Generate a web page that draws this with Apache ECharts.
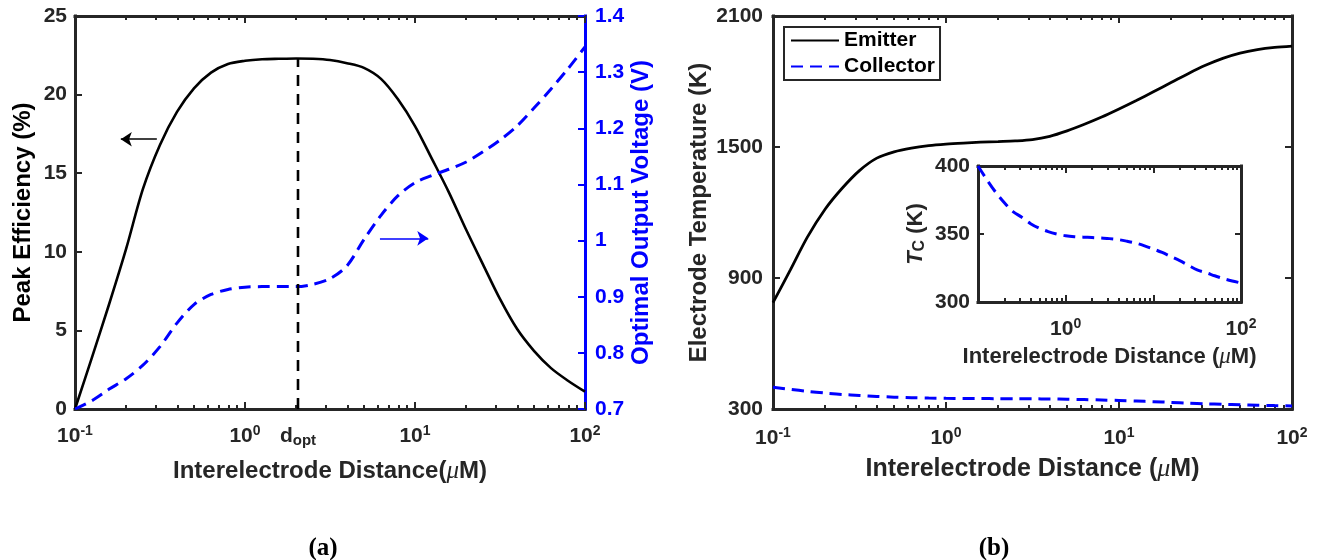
<!DOCTYPE html>
<html><head><meta charset="utf-8">
<script src="https://cdn.jsdelivr.net/npm/echarts@6/dist/echarts.min.js"></script>
<style>html,body{margin:0;padding:0;background:#fff}#c{width:1325px;height:560px}</style>
</head><body><div id="c"></div>
<script>
// ---------- data ----------
const distance = [0.1, 0.126, 0.158, 0.2, 0.251, 0.316, 0.398, 0.501, 0.631, 0.794, 1, 1.26, 1.58, 2, 2.51, 3.16, 3.98, 5.01, 6.31, 7.94, 10, 12.6, 15.8, 20, 25.1, 31.6, 39.8, 50.1, 63.1, 79.4, 100];
const efficiency = [0, 3.3, 6.6, 10.2, 14.0, 16.8, 18.9, 20.4, 21.4, 21.95, 22.15, 22.25, 22.28, 22.3, 22.28, 22.2, 22.0, 21.7, 21.0, 19.7, 18.0, 15.9, 13.8, 11.4, 9.2, 7.0, 5.1, 3.7, 2.6, 1.8, 1.1];
const voltage = [0.700, 0.715, 0.735, 0.754, 0.778, 0.811, 0.853, 0.886, 0.904, 0.913, 0.917, 0.918, 0.918, 0.918, 0.922, 0.932, 0.955, 1.002, 1.045, 1.080, 1.103, 1.116, 1.127, 1.140, 1.158, 1.179, 1.204, 1.236, 1.270, 1.306, 1.345];
const emitterT = [787, 937, 1087, 1215, 1311, 1392, 1449, 1478, 1495, 1506, 1513, 1518, 1522, 1525, 1528, 1534, 1549, 1574, 1604, 1637, 1674, 1713, 1753, 1795, 1836, 1874, 1906, 1930, 1946, 1956, 1962];
const collectorT = [400, 390, 381, 373, 366.5, 362.3, 357.6, 354.2, 351.8, 350, 348.7, 348, 347.7, 347.4, 347, 346.6, 345.9, 344.7, 343.3, 341.3, 339, 336.4, 333.5, 330.4, 327, 323.6, 321.6, 319.3, 317.2, 315.5, 314];
const dOpt = 2.05;
const peakEff = 22.3;
const effArrow = [[0.303, 17.16], [0.186, 17.16]];
const voltArrow = [[6.22, 1.004], [11.97, 1.004]];
const majorX = [0.1, 1, 10, 100];
const minorX = [0.2, 0.3, 0.4, 0.5, 0.6, 0.7, 0.8, 0.9, 2, 3, 4, 5, 6, 7, 8, 9, 20, 30, 40, 50, 60, 70, 80, 90];
const labelsA = [0.1, 1, dOpt, 10, 100];
const labelsB = [0.1, 1, 10, 100];
const labelsInset = [1, 100];
const tempTicks = [300, 900, 1500, 2100];

// ---------- styling ----------
const FONT = "'Liberation Sans', Arial, Helvetica, sans-serif";
const SERIF = "'Liberation Serif', 'Times New Roman', serif";
const INK = '#262626';
const BLUE = '#0000ff';

function tickRich(color) {
  return {
    b: {fontFamily: FONT, fontWeight: 'bold', fontSize: 21, color: color, lineHeight: 24},
    sup: {fontFamily: FONT, fontWeight: 'bold', fontSize: 14, color: color, lineHeight: 11, verticalAlign: 'top'},
    sub: {fontFamily: FONT, fontWeight: 'bold', fontSize: 15, color: color, lineHeight: 2, verticalAlign: 'bottom'}
  };
}
function powLabel(v) {
  if (Math.abs(v - dOpt) < 1e-6) return '{b|d}{sub|opt}';
  const e = Math.round(Math.log10(v));
  return '{b|10}{sup|' + e + '}';
}
function nameStyle(size, color, pad) {
  return {
    fontFamily: FONT, fontWeight: 'bold', fontSize: size, color: color, padding: pad || 0,
    rich: {
      i: {fontFamily: SERIF, fontStyle: 'italic', fontWeight: 'normal', fontSize: size + 1, color: color},
      it: {fontFamily: FONT, fontStyle: 'italic', fontWeight: 'bold', fontSize: size, color: color, lineHeight: size + 2},
      s: {fontFamily: FONT, fontWeight: 'bold', fontSize: Math.round(size * 0.72), color: color, lineHeight: 4, verticalAlign: 'bottom'}
    }
  };
}
const plainNum = (v) => String(Math.round(v * 1000) / 1000);
const axLine = {show: true, onZero: false, lineStyle: {color: INK, width: 3, cap: 'square'}};
function xAxisSet(gi, labelVals, name, nameGap, nameSize, margin) {
  const base = {gridIndex: gi, type: 'log', logBase: 10, min: 0.1, max: 100, splitLine: {show: false},
    minorTick: {show: false}, minorSplitLine: {show: false}, axisPointer: {show: false}, silent: true};
  const major = {show: true, inside: true, length: 7, customValues: majorX, lineStyle: {color: INK, width: 2}};
  const minor = {show: true, inside: true, length: 4, customValues: minorX, lineStyle: {color: INK, width: 2}};
  return [
    Object.assign({}, base, {position: 'bottom', axisLine: axLine, axisTick: major,
      axisLabel: {show: true, customValues: labelVals, formatter: powLabel, margin: margin, rich: tickRich(INK), hideOverlap: false},
      name: name, nameLocation: 'middle', nameGap: nameGap, nameTextStyle: nameStyle(nameSize, INK)}),
    Object.assign({}, base, {position: 'top', axisLine: axLine, axisTick: major, axisLabel: {show: false}}),
    Object.assign({}, base, {position: 'bottom', axisLine: {show: false}, axisTick: minor, axisLabel: {show: false}}),
    Object.assign({}, base, {position: 'top', axisLine: {show: false}, axisTick: minor, axisLabel: {show: false}})
  ];
}
function yTickLabel(color, margin) {
  return {show: true, margin: margin, fontFamily: FONT, fontWeight: 'bold', fontSize: 21, color: color, formatter: plainNum};
}

const pts = (ys) => distance.map((d, i) => [d, ys[i]]);

const xAxes = [].concat(
  xAxisSet(0, labelsA, 'Interelectrode Distance({i|μ}M)', 50, 24, 15),
  xAxisSet(1, labelsB, 'Interelectrode Distance ({i|μ}M)', 47, 25, 17),
  xAxisSet(2, labelsInset, 'Interelectrode Distance ({i|μ}M)', 43, 22, 15)
);

const yAxes = [
  {gridIndex: 0, type: 'value', min: 0, max: 25, interval: 5, position: 'left',
    axisLine: axLine, axisTick: {show: true, inside: true, length: 7, lineStyle: {color: INK, width: 2}},
    axisLabel: yTickLabel(INK, 8), splitLine: {show: false},
    name: 'Peak Efficiency (%)', nameLocation: 'middle', nameRotate: 90, nameGap: 40, nameTextStyle: nameStyle(24, '#000')},
  {gridIndex: 0, type: 'value', min: 0.7, max: 1.4, interval: 0.1, position: 'right',
    axisLine: {show: true, onZero: false, lineStyle: {color: BLUE, width: 3, cap: 'square'}},
    axisTick: {show: true, inside: true, length: 7, lineStyle: {color: BLUE, width: 2}},
    axisLabel: yTickLabel(BLUE, 10), splitLine: {show: false},
    name: 'Optimal Output Voltage (V)', nameLocation: 'middle', nameRotate: 90, nameGap: 44, nameTextStyle: nameStyle(24, BLUE)},
  {gridIndex: 1, type: 'value', min: 300, max: 2100, position: 'left',
    axisLine: axLine, axisTick: {show: true, inside: true, length: 7, customValues: tempTicks, lineStyle: {color: INK, width: 2}},
    axisLabel: Object.assign(yTickLabel(INK, 10), {customValues: tempTicks}), splitLine: {show: false},
    name: 'Electrode Temperature (K)', nameLocation: 'middle', nameRotate: 90, nameGap: 62, nameTextStyle: nameStyle(24, INK)},
  {gridIndex: 1, type: 'value', min: 300, max: 2100, position: 'right',
    axisLine: axLine, axisTick: {show: true, inside: true, length: 7, customValues: tempTicks, lineStyle: {color: INK, width: 2}},
    axisLabel: {show: false}, splitLine: {show: false}},
  {gridIndex: 2, type: 'value', min: 300, max: 400, interval: 50, position: 'left',
    axisLine: axLine, axisTick: {show: true, inside: true, length: 6, lineStyle: {color: INK, width: 2}},
    axisLabel: yTickLabel(INK, 8), splitLine: {show: false},
    name: '{it|T}{s|C} (K)', nameLocation: 'middle', nameRotate: 90, nameGap: 50, nameTextStyle: nameStyle(22, INK)},
  {gridIndex: 2, type: 'value', min: 300, max: 400, interval: 50, position: 'right',
    axisLine: axLine, axisTick: {show: true, inside: true, length: 6, lineStyle: {color: INK, width: 2}},
    axisLabel: {show: false}, splitLine: {show: false}}
];

const lineBase = {type: 'line', symbol: 'none', showSymbol: false, smooth: 0.3, silent: true, animation: false, z: 3};
const arrowMark = (color, seg) => ({
  silent: true, animation: false, symbol: ['none', 'arrow'], symbolSize: 11, label: {show: false},
  lineStyle: {color: color, width: 1.5, type: 'solid'}, emphasis: {disabled: true},
  data: [[{coord: seg[0]}, {coord: seg[1]}]]
});

const option = {
  animation: false,
  backgroundColor: '#fff',
  title: [
    {text: '(a)', left: 318, top: 531, textAlign: 'center', textStyle: {fontFamily: SERIF, fontWeight: 'bold', fontSize: 25, color: '#000'}},
    {text: '(b)', left: 989, top: 531, textAlign: 'center', textStyle: {fontFamily: SERIF, fontWeight: 'bold', fontSize: 25, color: '#000'}}
  ],
  grid: [
    {left: 75, top: 16, width: 510, height: 393, outerBoundsMode: 'none', containLabel: false},
    {left: 773, top: 16, width: 519, height: 393, outerBoundsMode: 'none', containLabel: false},
    {left: 978, top: 166, width: 263, height: 136, outerBoundsMode: 'none', containLabel: false, show: true, backgroundColor: '#fff', borderWidth: 0}
  ],
  legend: {
    data: ['Emitter', 'Collector'], orient: 'vertical', left: 784, top: 27,
    padding: [3, 5, 3, 6], itemGap: 5, itemWidth: 48, itemHeight: 21,
    backgroundColor: '#fff', borderColor: INK, borderWidth: 2, selectedMode: false,
    itemStyle: {opacity: 0, borderWidth: 0},
    lineStyle: {inactiveWidth: 2.8},
    textStyle: {fontFamily: FONT, fontWeight: 'bold', fontSize: 21, color: '#000'}
  },
  xAxis: xAxes,
  yAxis: yAxes,
  series: [
    Object.assign({}, lineBase, {name: 'Peak Efficiency', xAxisIndex: 0, yAxisIndex: 0, data: pts(efficiency),
      lineStyle: {color: '#000', width: 2.6}, markLine: arrowMark('#000', effArrow)}),
    Object.assign({}, lineBase, {name: 'Optimal Output Voltage', xAxisIndex: 0, yAxisIndex: 1, data: pts(voltage),
      lineStyle: {color: BLUE, width: 3, type: [12, 7]}, markLine: arrowMark(BLUE, voltArrow)}),
    Object.assign({}, lineBase, {name: 'd_opt', xAxisIndex: 0, yAxisIndex: 0, smooth: false, data: [[dOpt, 0], [dOpt, peakEff]],
      lineStyle: {color: '#000', width: 2.6, type: [11, 8]}}),
    Object.assign({}, lineBase, {name: 'Emitter', xAxisIndex: 4, yAxisIndex: 2, data: pts(emitterT),
      lineStyle: {color: '#000', width: 2.8}, itemStyle: {color: '#000'}}),
    Object.assign({}, lineBase, {name: 'Collector', xAxisIndex: 4, yAxisIndex: 2, data: pts(collectorT),
      lineStyle: {color: BLUE, width: 3, type: [12, 7]}, itemStyle: {color: BLUE}}),
    Object.assign({}, lineBase, {name: 'Collector inset', xAxisIndex: 8, yAxisIndex: 4, data: pts(collectorT),
      lineStyle: {color: BLUE, width: 3, type: [12, 7]}, z: 6})
  ]
};

const chart = echarts.init(document.getElementById('c'), null, {renderer: 'canvas'});
chart.setOption(option);
</script>
</body></html>
